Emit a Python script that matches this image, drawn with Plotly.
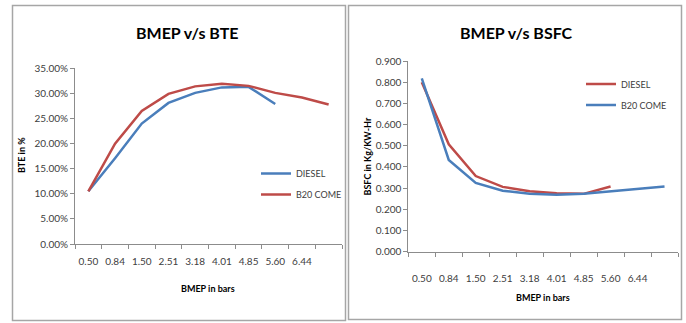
import plotly.graph_objects as go

# ---- data ----
bmep_labels = ["0.50", "0.84", "1.50", "2.51", "3.18", "4.01", "4.85", "5.60", "6.44", ""]
bte_diesel = [0.105, 0.171, 0.240, 0.281, 0.301, 0.312, 0.313, 0.279]
bte_b20 = [0.105, 0.200, 0.265, 0.299, 0.314, 0.319, 0.315, 0.301, 0.292, 0.278]
bsfc_diesel = [0.800, 0.507, 0.357, 0.306, 0.285, 0.276, 0.273, 0.308]
bsfc_b20 = [0.818, 0.433, 0.325, 0.288, 0.273, 0.269, 0.274, 0.285, 0.294, 0.308]

W, H = 686, 323
BLUE = "#4A7EBB"
RED = "#BE4B48"
AX = "#8C8C8C"
TXT = "#404040"
FONT = "Lato"


def px(x):
    return x / W


def py(y):
    return 1 - y / H


fig = go.Figure()

fig.add_trace(go.Scatter(x=list(range(len(bte_diesel))), y=bte_diesel, mode="lines",
                         name="DIESEL", line=dict(color=BLUE, width=2.5),
                         xaxis="x", yaxis="y", legend="legend"))
fig.add_trace(go.Scatter(x=list(range(len(bte_b20))), y=bte_b20, mode="lines",
                         name="B20 COME", line=dict(color=RED, width=2.5),
                         xaxis="x", yaxis="y", legend="legend2"))
fig.add_trace(go.Scatter(x=list(range(len(bsfc_diesel))), y=bsfc_diesel, mode="lines",
                         name="DIESEL", line=dict(color=RED, width=2.5),
                         xaxis="x2", yaxis="y2", legend="legend3"))
fig.add_trace(go.Scatter(x=list(range(len(bsfc_b20))), y=bsfc_b20, mode="lines",
                         name="B20 COME", line=dict(color=BLUE, width=2.5),
                         xaxis="x2", yaxis="y2", legend="legend4"))

xcommon = dict(
    range=[-0.5, len(bmep_labels) - 0.5],
    tickmode="array",
    tickvals=list(range(len(bmep_labels))),
    ticktext=bmep_labels,
    ticks="",
    showline=True, linecolor=AX, linewidth=1,
    showgrid=False, zeroline=False, automargin=False,
    minor=dict(tick0=-0.5, dtick=1, ticks="outside", ticklen=4, tickcolor=AX, showgrid=False),
    tickfont=dict(family=FONT, size=10, color=TXT),
    fixedrange=True,
)

fig.update_layout(
    width=W, height=H,
    margin=dict(l=0, r=0, t=0, b=0, autoexpand=False),
    paper_bgcolor="white", plot_bgcolor="white",
    showlegend=True,
    xaxis=dict(domain=[px(75), px(342)], anchor="y", ticklabelstandoff=8, **xcommon),
    yaxis=dict(domain=[py(244), py(68.3)], anchor="x", range=[0, 0.35], dtick=0.05,
               tickformat=".2%", ticks="outside", ticklen=4, tickcolor=AX, automargin=False,
               showline=True, linecolor=AX, linewidth=1, showgrid=False, zeroline=False,
               tickfont=dict(family=FONT, size=10, color=TXT), fixedrange=True),
    xaxis2=dict(domain=[px(408.3), px(678)], anchor="y2", ticklabelstandoff=17, **xcommon),
    yaxis2=dict(domain=[py(251.7), py(61)], anchor="x2", range=[0, 0.9], dtick=0.1,
                tickformat=".3f", ticks="outside", ticklen=4, tickcolor=AX, automargin=False,
                showline=True, linecolor=AX, linewidth=1, showgrid=False, zeroline=False,
                tickfont=dict(family=FONT, size=10, color=TXT), fixedrange=True),
)

legfont = dict(family=FONT, size=9, color=TXT)
leg_pos = {"legend": (296, 173.5), "legend2": (296, 194.5),
           "legend3": (621, 84), "legend4": (621, 105)}
for key, (tx, ty) in leg_pos.items():
    fig.update_layout({key: dict(x=px(tx - 40), y=py(ty), xanchor="left", yanchor="middle",
                                 bgcolor="rgba(0,0,0,0)", borderwidth=0, font=legfont,
                                 itemclick=False, itemdoubleclick=False)})

annots = [
    dict(text="<b>BMEP v/s BTE</b>", x=px(187), y=py(33), size=16, color="black", angle=0),
    dict(text="<b>BMEP v/s BSFC</b>", x=px(516), y=py(32), size=16, color="black", angle=0),
    dict(text="<b>BTE in %</b>", x=px(21), y=py(155), size=9, color="black", angle=-90),
    dict(text="<b>BSFC in Kg/KW-Hr</b>", x=px(366.5), y=py(157), size=9, color="black", angle=-90),
    dict(text="<b>BMEP in bars</b>", x=px(208), y=py(288.5), size=9, color="black", angle=0),
    dict(text="<b>BMEP in bars</b>", x=px(543), y=py(297.5), size=9, color="black", angle=0),
]
for a in annots:
    fig.add_annotation(text=a["text"], x=a["x"], y=a["y"], xref="paper", yref="paper",
                       xanchor="center", yanchor="middle", showarrow=False, textangle=a["angle"],
                       font=dict(family=FONT, size=a["size"], color=a["color"]))

# panel borders
for (x0, y0, x1, y1) in [(12.5, 5.5, 345.5, 320.5), (348.5, 5.5, 681.5, 319.5)]:
    fig.add_shape(type="rect", xref="paper", yref="paper",
                  x0=px(x0), x1=px(x1), y0=py(y1), y1=py(y0),
                  line=dict(color="#A6A6A6", width=1.5), fillcolor="rgba(0,0,0,0)")

fig.write_html("out.html", config={"displayModeBar": False},
               post_script="document.body.style.margin='0';document.body.style.overflow='hidden';")
